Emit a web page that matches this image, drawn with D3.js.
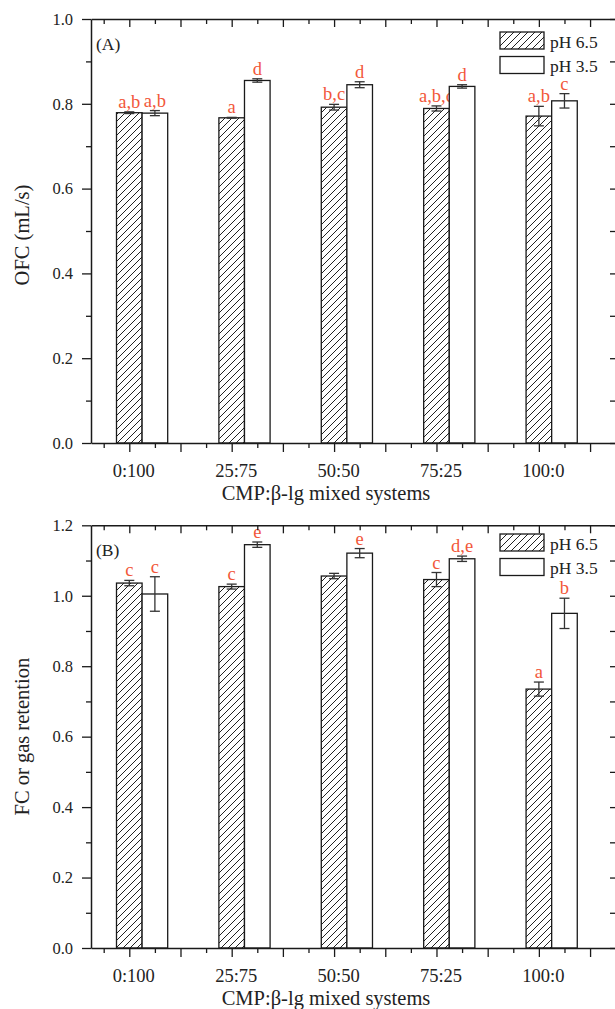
<!DOCTYPE html>
<html>
<head>
<meta charset="utf-8">
<script src="https://cdn.jsdelivr.net/npm/d3@7/dist/d3.min.js"></script>
<style>
  html, body { margin: 0; padding: 0; background: #fff; }
  svg { display: block; }
  text { font-family: "Liberation Serif", "Times New Roman", serif; fill: #222; }
</style>
</head>
<body>
<svg id="chart" width="615" height="1009"></svg>
<script>
// Mixing ratios of CMP and β-lg
const categories = ["0:100", "25:75", "50:50", "75:25", "100:0"];
const seriesNames = ["pH 6.5", "pH 3.5"];

// (A) overrun flow capacity, mL/s
const ofcPH65 = [0.779, 0.767, 0.792, 0.789, 0.771];
const ofcPH65Err = [0.002, 0.001, 0.0067, 0.006, 0.023];
const ofcPH35 = [0.778, 0.855, 0.845, 0.841, 0.807];
const ofcPH35Err = [0.006, 0.004, 0.007, 0.004, 0.017];
const ofcLetters65 = ["a,b", "a", "b,c", "a,b,c", "a,b"];
const ofcLetters35 = ["a,b", "d", "d", "d", "c"];
const ofcTicks = [0.0, 0.2, 0.4, 0.6, 0.8, 1.0];

// (B) foam capacity / gas retention
const fcPH65 = [1.036, 1.026, 1.056, 1.046, 0.735];
const fcPH65Err = [0.0076, 0.007, 0.0076, 0.02, 0.02];
const fcPH35 = [1.005, 1.145, 1.121, 1.105, 0.950];
const fcPH35Err = [0.049, 0.0076, 0.013, 0.0076, 0.043];
const fcLetters65 = ["c", "c", "", "c", "a"];
const fcLetters35 = ["c", "e", "e", "d,e", "b"];
const fcTicks = [0.0, 0.2, 0.4, 0.6, 0.8, 1.0, 1.2];

const svg = d3.select("#chart");
const letterColor = "#f2573a";
const ink = "#1a1a1a";

// diagonal hatch fill for the pH 6.5 bars
const defs = svg.append("defs");
defs.append("pattern")
  .attr("id", "hatch")
  .attr("patternUnits", "userSpaceOnUse")
  .attr("width", 7).attr("height", 7)
  .append("path")
  .attr("d", "M-1,1 l2,-2 M0,7 l7,-7 M6,8 l2,-2")
  .attr("stroke", "#222").attr("stroke-width", 1);

// shared horizontal layout: categories sit at positions 1..5
const x = d3.scaleLinear().domain([0.626, 5.763]).range([91, 617]);
const xMajor = d3.range(1, 5.51, 0.5);
const xMinor = d3.range(0.75, 5.76, 0.5);

function panel(cfg) {
  const g = svg.append("g");
  const y = d3.scaleLinear().domain([0, cfg.yMax]).range([cfg.bottom, cfg.top]);
  const yMinor = d3.range(0.1, cfg.yMax, 0.2);

  const rows = categories.map((c, i) => ({
    cat: c, pos: i + 1,
    v: [cfg.v65[i], cfg.v35[i]],
    e: [cfg.e65[i], cfg.e35[i]],
    l: [cfg.l65[i], cfg.l35[i]]
  }));

  // bars: hatched pH 6.5 centred on the tick, open pH 3.5 to its right
  const offsets = [-0.125, 0.125];
  rows.forEach(r => {
    [0, 1].forEach(s => {
      const x0 = x(r.pos + offsets[s]);
      const x1 = x(r.pos + offsets[s] + 0.25);
      const xc = (x0 + x1) / 2;
      g.append("rect")
        .attr("x", x0).attr("y", y(r.v[s]))
        .attr("width", x1 - x0).attr("height", y(0) - y(r.v[s]))
        .attr("fill", s === 0 ? "url(#hatch)" : "#fff")
        .attr("stroke", ink).attr("stroke-width", 1.3);
      // error bar
      const yHi = y(r.v[s] + r.e[s]), yLo = y(r.v[s] - r.e[s]);
      const eb = g.append("g").attr("stroke", "#333").attr("stroke-width", 1.3);
      eb.append("line").attr("x1", xc).attr("x2", xc).attr("y1", yHi).attr("y2", yLo);
      eb.append("line").attr("x1", xc - 5).attr("x2", xc + 5).attr("y1", yHi).attr("y2", yHi);
      eb.append("line").attr("x1", xc - 5).attr("x2", xc + 5).attr("y1", yLo).attr("y2", yLo);
      // significance letters
      if (r.l[s]) {
        g.append("text")
          .attr("x", xc).attr("y", yHi - 4)
          .attr("text-anchor", "middle")
          .attr("font-size", 18.5)
          .style("fill", letterColor)
          .text(r.l[s]);
      }
    });
  });

  // axes
  const axisStyle = sel => {
    sel.selectAll("path.domain").attr("stroke", ink).attr("stroke-width", 1.5);
    sel.selectAll(".tick line").attr("stroke", ink).attr("stroke-width", 1.3);
    sel.selectAll("text").attr("font-family", "Liberation Serif, Times New Roman, serif").style("fill", "#222");
  };

  // left
  g.append("g").attr("transform", `translate(${x.range()[0]},0)`)
    .call(d3.axisLeft(y).tickValues(yMinor).tickSize(5).tickFormat(""))
    .call(axisStyle).select("path.domain").remove();
  g.append("g").attr("transform", `translate(${x.range()[0]},0)`)
    .call(d3.axisLeft(y).tickValues(cfg.ticks).tickSize(9).tickPadding(9).tickSizeOuter(0)
      .tickFormat(d3.format(".1f")))
    .call(axisStyle)
    .selectAll("text").attr("font-size", 16.5);

  // right (inward)
  g.append("g").attr("transform", `translate(${x.range()[1]},0)`)
    .call(d3.axisRight(y).tickValues(cfg.ticks.concat(yMinor)).tickSize(-7).tickSizeOuter(0).tickFormat(""))
    .call(axisStyle);

  // bottom
  g.append("g").attr("transform", `translate(0,${cfg.bottom})`)
    .call(d3.axisBottom(x).tickValues(xMinor).tickSize(5).tickFormat(""))
    .call(axisStyle).select("path.domain").remove();
  const bx = g.append("g").attr("transform", `translate(0,${cfg.bottom})`)
    .call(d3.axisBottom(x).tickValues(xMajor).tickSize(9).tickSizeOuter(0).tickPadding(12)
      .tickFormat(d => Number.isInteger(d) ? categories[d - 1] : ""))
    .call(axisStyle);
  bx.selectAll("text").attr("font-size", 18.5).attr("dx", 4);

  // top (inward)
  g.append("g").attr("transform", `translate(0,${cfg.top})`)
    .call(d3.axisTop(x).tickValues(xMinor).tickSize(-5).tickFormat(""))
    .call(axisStyle).select("path.domain").remove();
  g.append("g").attr("transform", `translate(0,${cfg.top})`)
    .call(d3.axisTop(x).tickValues(xMajor).tickSize(-8).tickSizeOuter(0).tickFormat(""))
    .call(axisStyle);

  // titles
  g.append("text")
    .attr("x", 326).attr("y", cfg.bottom + 57)
    .attr("text-anchor", "middle").attr("font-size", 20.5)
    .text("CMP:β-lg mixed systems");
  g.append("text")
    .attr("transform", `translate(29,${(cfg.top + cfg.bottom) / 2 + cfg.yTitleShift}) rotate(-90)`)
    .attr("text-anchor", "middle").attr("font-size", 20.5)
    .text(cfg.yTitle);
  g.append("text")
    .attr("x", 96).attr("y", cfg.top + 31)
    .attr("font-size", 17.5)
    .text(cfg.tag);

  // legend
  const lg = g.append("g").attr("transform", `translate(500,${cfg.top + cfg.legendTop})`);
  seriesNames.forEach((n, i) => {
    lg.append("rect")
      .attr("x", 0).attr("y", i * 24.5)
      .attr("width", 44).attr("height", 17)
      .attr("fill", i === 0 ? "url(#hatch)" : "#fff")
      .attr("stroke", ink).attr("stroke-width", 1.3);
    lg.append("text")
      .attr("x", 50).attr("y", i * 24.5 + 15.5)
      .attr("font-size", 17.5)
      .text(n);
  });
}

panel({
  top: 19, bottom: 443, yMax: 1.0, ticks: ofcTicks,
  v65: ofcPH65, e65: ofcPH65Err, v35: ofcPH35, e35: ofcPH35Err,
  l65: ofcLetters65, l35: ofcLetters35,
  yTitle: "OFC (mL/s)", yTitleShift: 4, tag: "(A)", legendTop: 13
});

panel({
  top: 525.3, bottom: 948, yMax: 1.2, ticks: fcTicks,
  v65: fcPH65, e65: fcPH65Err, v35: fcPH35, e35: fcPH35Err,
  l65: fcLetters65, l35: fcLetters35,
  yTitle: "FC or gas retention", yTitleShift: 0, tag: "(B)", legendTop: 8.7
});
</script>
</body>
</html>
